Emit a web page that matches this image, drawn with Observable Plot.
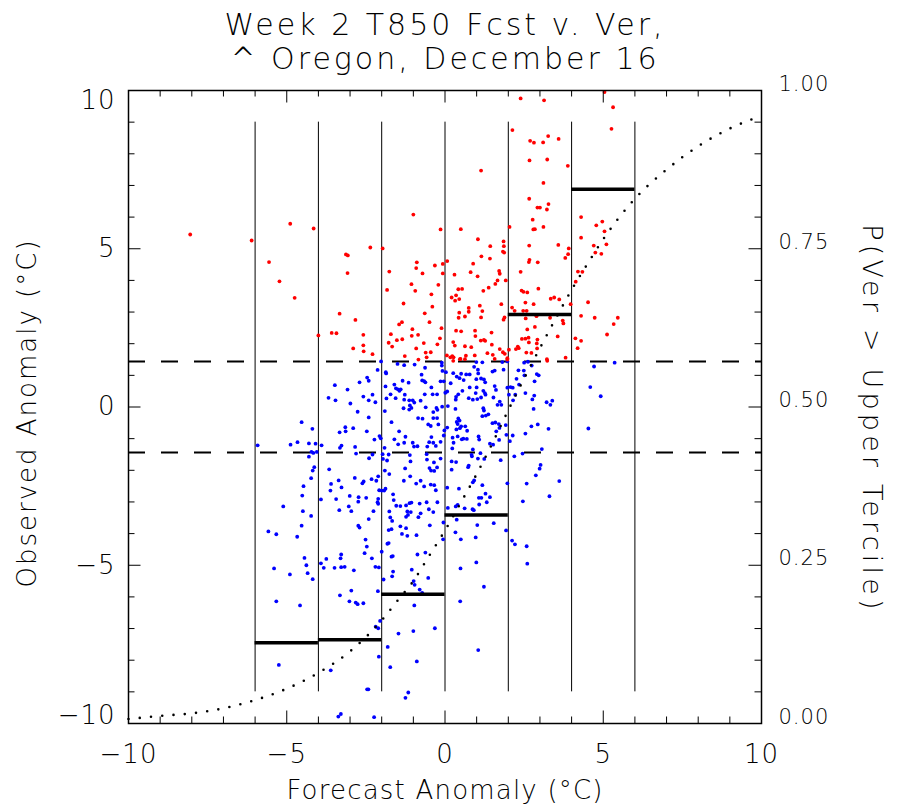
<!DOCTYPE html>
<html><head><meta charset="utf-8">
<script src="https://cdn.jsdelivr.net/npm/d3@7"></script>
<script src="https://cdn.jsdelivr.net/npm/@observablehq/plot@0.6"></script>
<style>
html,body{margin:0;padding:0;background:#fff;}
#chart svg{display:block;}
</style></head><body><div id="chart"></div>
<script>
// ---------- text ----------
const titleLines = ["Week 2 T850 Fcst v. Ver,", "^ Oregon, December 16"];
const xLabel = "Forecast Anomaly (°C)";
const yLabel = "Observed Anomaly (°C)";
const y2Label = "P(Ver > Upper Tercile)";

// ---------- ticks ----------
const xTicks = [-10, -5, 0, 5, 10];
const yTicks = [-10, -5, 0, 5, 10];
const probTicks = [0, 0.25, 0.5, 0.75, 1];
const probTickLabels = ["0.00", "0.25", "0.50", "0.75", "1.00"];

// ---------- bins / terciles ----------
const binEdges = [-6, -4, -2, 0, 2, 4, 6];
const binValues = [-7.45, -7.35, -5.92, -3.41, 2.92, 6.88];
const binLineExtent = [-9, 9];
const terciles = [-1.44, 1.44];

// ---------- probability curve (right axis) ----------
const curveFcst = [-10, -9, -8, -7, -6, -5, -4, -3, -2, -1.5, -1, -0.5, 0, 0.5, 1, 1.5, 2, 2.5, 3, 3.5, 4, 4.5, 5, 6, 7, 8, 9, 10];
const curveProb = [0.007, 0.012, 0.016, 0.024, 0.037, 0.055, 0.080, 0.114, 0.163, 0.194, 0.225, 0.265, 0.305, 0.349, 0.394, 0.443, 0.495, 0.545, 0.593, 0.640, 0.685, 0.726, 0.765, 0.829, 0.875, 0.912, 0.940, 0.960];

// ---------- scatter: observed above upper tercile (red) ----------
const warmPoints = [
[-8.05,5.45],[-6.11,5.26],[-4.89,5.79],[-4.15,5.64],[-5.56,4.58],[-5.23,3.97],[-4.75,3.45],[-2.36,5.04],[-1.97,5.01],
[-3.13,4.82],[-3.07,4.79],[-3.08,4.23],[-1.76,4.28],[-1.83,3.70],[-3.33,2.95],[-2.83,2.75],[-1.45,2.61],[-4.0,2.26],
[-3.58,2.34],[-3.43,2.33],[-2.58,2.28],[-1.71,2.30],[-1.52,2.11],[-1.78,2.03],[-1.67,1.91],[-2.90,1.85],[-2.58,1.95],
[-2.57,1.76],[-2.29,1.67],
[2.39,9.75],[3.13,9.69],[5.04,9.95],[5.31,9.47],[5.26,8.79],[2.13,8.75],[2.69,8.41],[2.81,8.35],[3.10,8.36],[3.26,8.56],
[3.59,8.47],[2.67,7.79],[3.23,7.82],[3.88,7.62],[1.14,7.47],[3.11,7.08],[2.66,6.58],[3.27,6.41],[2.92,6.30],[3.00,6.30],
[3.22,6.24],[-1.00,6.08],[2.77,5.92],[2.79,5.61],[2.84,5.62],[3.11,5.69],[-0.14,5.61],[0.50,5.62],[2.04,5.69],[4.30,6.00],
[4.97,5.86],[4.78,5.74],[5.04,5.55],[4.30,5.35],[4.70,5.10],[5.10,5.14],[4.75,4.88],[4.94,4.84],[1.04,5.30],[1.43,5.08],
[1.85,5.23],[1.86,5.08],[1.83,4.91],[1.87,4.88],[1.15,4.76],[1.42,4.69],[2.66,5.10],[3.58,5.12],[3.91,5.01],[3.89,4.83],
[3.80,4.71],[2.67,4.65],[2.65,4.58],[2.93,4.57],[2.39,4.27],[4.20,4.28],[4.34,4.27],[4.13,3.96],[0.89,4.53],[1.03,4.13],
[0.81,4.26],[1.71,4.30],[1.73,4.21],[1.66,4.00],[1.59,3.89],[1.92,4.00],[1.38,3.77],[1.21,3.67],[0.30,4.18],[0.07,4.61],
[-0.07,4.22],[-0.07,4.52],[-0.32,4.47],[-0.89,4.57],[-0.91,4.39],[-0.71,4.22],[-0.21,3.86],[-1.06,3.88],[-0.94,3.67],
[-0.43,3.56],[-1.31,3.27],[-0.40,3.17],[-0.64,2.96],[-0.49,2.68],[-1.36,2.68],[-1.03,2.46],[-0.85,2.28],[-1.05,2.25],
[-0.11,2.49],[-0.16,2.17],[-1.35,2.14],[-0.24,1.98],[-0.67,2.02],[-0.91,1.85],[-0.61,1.72],[-0.58,1.57],[-0.45,1.73],
[-1.27,1.61],[0.21,3.46],[0.32,3.36],[0.45,3.41],[0.35,3.53],[0.42,3.72],[0.54,3.73],[0.75,3.13],[0.75,3.01],[0.45,2.98],
[0.63,2.86],[0.43,2.82],[1.10,3.20],[1.18,3.03],[1.14,2.83],[1.78,3.25],[1.88,2.83],[1.85,2.76],[1.47,2.35],[0.35,2.41],
[0.51,2.39],[0.95,2.41],[0.96,2.24],[0.83,1.89],[1.13,2.10],[1.23,2.12],[1.27,2.09],[0.63,1.92],[0.31,1.94],[0.26,2.05],
[1.48,1.97],[1.34,1.70],[1.51,1.65],[1.57,1.52],[0.06,1.63],[0.23,1.61],[0.27,1.57],[0.47,1.51],[0.66,1.62],[0.63,1.51],
[0.94,1.63],[1.73,1.83],[1.83,1.73],[1.89,1.68],[1.97,1.54],[2.02,1.81],[2.42,3.68],[2.48,3.64],[2.60,3.62],[2.95,3.74],
[2.54,3.30],[2.80,3.25],[2.12,3.14],[2.20,3.04],[2.47,3.04],[2.58,3.04],[2.55,2.80],[2.89,2.87],[3.32,2.82],[2.84,2.53],
[2.60,2.45],[2.43,2.15],[2.54,2.16],[2.64,2.19],[2.65,2.04],[2.92,2.13],[2.90,2.01],[2.91,1.85],[2.24,1.83],[2.30,1.91],
[2.33,1.86],[2.57,1.72],[2.73,1.71],[3.22,1.51],[3.56,2.23],[3.72,2.73],[3.74,2.64],[3.34,3.42],[3.45,3.46],[3.61,3.40],
[3.97,3.25],[3.81,1.56],[4.12,2.17],[4.30,2.09],[4.19,1.86],[4.52,3.31],[4.30,2.88],[4.73,2.82],[5.46,2.82],[5.33,2.62],
[5.12,2.29],[0.17,1.57],[0.26,1.46],[0.49,1.52],[1.97,1.50],[3.23,1.46],[-0.84,1.50]
];

// ---------- scatter: other observations (blue) ----------
const otherPoints = [
[-2.02,1.44],[-1.50,1.36],[-1.29,1.32],[-0.96,1.34],[-0.63,1.24],[-2.13,1.17],[-1.87,1.10],[-1.86,1.06],[-2.46,0.93],
[-2.41,0.83],[-2.70,0.78],[-0.74,1.02],[-0.72,0.84],[-0.66,0.82],[-0.62,0.78],[-1.34,0.83],[-1.15,0.77],[-1.60,0.71],
[-1.55,0.59],[-1.49,0.56],[-1.40,0.56],[-1.44,0.51],[-1.88,0.65],[-3.48,0.69],[-3.08,0.55],[-3.68,0.29],[-3.46,0.21],
[-2.99,0.11],[-2.58,0.33],[-2.41,0.21],[-2.29,0.39],[-2.20,0.15],[-1.72,0.40],[-1.85,0.27],[-1.56,0.28],[-1.29,0.23],
[-1.13,0.21],[-1.27,0.39],[-1.02,0.21],[-0.64,0.40],[-0.39,0.40],[-0.25,0.40],[-0.77,0.20],[-1.11,0.05],[-1.06,-0.03],
[-1.13,-0.08],[-0.97,0.14],[-0.43,0.62],[-1.31,-0.04],[-0.61,-0.01],[-0.27,-0.03],[-0.37,-0.16],[-0.24,-0.09],[-1.90,-0.13],
[-2.76,-0.15],[-2.41,-0.33],[-0.85,-0.35],[-0.71,-0.37],[-0.37,-0.35],[-0.25,-0.35],[-1.69,-0.48],[-0.53,-0.55],[-0.45,-0.60],
[-0.21,-0.55],[-4.53,-0.48],[-4.19,-0.69],[-3.15,-0.64],[-2.90,-0.67],[-3.14,-0.77],[-3.33,-0.80],[-2.47,-0.77],[-1.45,-0.77],
[-2.07,-0.92],[-2.03,-0.99],[-2.23,-1.03],[-1.60,-1.02],[-1.25,-0.94],[-1.48,-1.18],[-1.29,-1.13],[-1.02,-1.13],[-0.50,-1.11],
[-0.37,-1.13],[-0.43,-0.95],[-0.29,-1.23],[-0.98,-1.25],[-0.87,-1.24],[-0.56,-1.25],[-1.91,-1.29],[-2.84,-1.26],[-3.27,-1.22],
[-3.32,-1.29],[-5.92,-1.21],[-4.88,-1.19],[-4.66,-1.11],[-4.30,-1.15],[-4.09,-1.16],[-3.90,-1.21],[-4.22,-1.42],[-4.16,-1.45],
[-4.30,-1.57],[-4.05,-1.42],[-2.81,-1.47],[-2.40,-1.62],[-2.29,-1.50],[-1.97,-1.49],[-1.78,-1.50],[-1.96,-1.64],[-1.83,-1.69],
[-1.11,-1.52],[-1.09,-1.72],[-1.26,-1.94],[-0.58,-1.49],[-0.57,-1.66],[-0.49,-1.93],[-0.44,-2.01],[-0.34,-2.02],[-0.25,-1.91],
[-0.35,-1.75],[-4.13,-1.90],[-4.18,-2.01],[-4.23,-2.25],[-3.66,-1.97],[-1.90,-2.01],[-1.76,-2.12],[-1.10,-2.19],[-1.30,-2.33],
[-0.77,-2.33],[-0.91,-2.42],[-0.66,-2.51],[-0.45,-2.45],[-0.34,-2.47],[-0.29,-2.63],[-2.85,-2.24],[-2.57,-2.35],[-2.61,-2.41],
[-2.32,-2.28],[-2.17,-2.33],[-2.11,-2.19],[-3.60,-2.43],[-3.36,-2.32],[-3.62,-2.64],[-3.27,-2.54],[-4.47,-2.50],[-4.51,-2.80],
[-3.92,-2.92],[-3.44,-2.91],[-3.01,-2.81],[-2.73,-2.85],[-2.74,-2.99],[-2.49,-2.87],[-2.08,-2.63],[-2.00,-2.64],[-1.92,-2.64],
[-1.88,-2.58],[-2.11,-2.90],[-2.13,-3.01],[-2.11,-3.06],[-1.64,-2.76],[-1.62,-2.94],[-1.54,-3.12],[-1.06,-3.02],[-1.12,-3.04],
[-1.23,-3.11],[-0.80,-3.05],[-0.58,-3.01],[-0.24,-3.01],[-5.11,-3.14],[-4.49,-3.29],[-4.23,-3.44],[-4.53,-3.75],[-3.34,-3.26],
[-3.04,-3.14],[-2.96,-3.29],[-2.26,-3.29],[-2.41,-3.54],[-1.76,-3.30],[-1.73,-3.49],[-1.67,-3.60],[-1.41,-3.13],[-1.23,-3.47],
[-1.17,-3.41],[-1.08,-3.32],[-1.19,-3.30],[-0.77,-3.36],[-0.84,-3.48],[-0.51,-3.23],[-0.37,-3.32],[-1.41,-3.77],[-1.23,-3.83],
[-0.48,-3.74],[-2.74,-3.75],[-2.70,-3.81],[-1.69,-3.86],[-1.78,-3.89],[-5.58,-3.93],[-5.33,-4.02],[-4.67,-4.10],[-1.36,-4.01],
[-1.19,-4.07],[-0.90,-4.05],[-2.51,-4.19],[-2.47,-4.41],[-2.54,-4.62],[-2.31,-4.78],[-1.78,-4.30],[-1.82,-4.32],[-2.00,-4.57],
[-1.69,-4.73],[-1.65,-4.71],[-0.87,-4.66],[-0.62,-4.60],[-4.44,-4.77],[-3.75,-4.80],[-3.30,-4.78],[-3.28,-4.66],
[-0.10,1.40],[-0.10,1.31],[-0.08,1.14],[0.03,1.10],[0.26,1.07],[0.37,0.96],[0.46,0.91],[0.59,0.85],[0.51,1.05],[0.67,1.03],
[0.78,1.03],[0.92,1.27],[0.99,1.42],[1.04,1.18],[1.18,1.41],[1.05,1.06],[0.99,0.88],[1.14,0.90],[1.23,0.87],[1.27,0.78],
[1.50,1.12],[1.57,1.15],[1.85,1.18],[1.81,1.42],[1.97,1.44],[2.32,1.16],[2.49,1.15],[2.62,1.43],[2.50,1.40],[2.74,1.31],
[2.51,1.00],[2.90,1.04],[2.96,1.00],[2.26,0.89],[2.34,0.71],[2.83,0.81],[5.36,1.40],[4.71,1.28],[4.59,0.63],[4.92,0.34],
[4.53,-0.68],[-0.14,0.81],[-0.04,0.81],[0.18,0.75],[0.07,0.49],[0.01,0.45],[0.35,0.32],[0.42,0.40],[0.34,0.23],[0.55,0.51],
[0.78,0.62],[1.00,0.62],[0.97,0.44],[0.75,0.28],[0.88,0.23],[1.02,0.25],[1.21,0.51],[1.26,0.44],[1.14,0.30],[1.28,0.39],
[1.57,0.66],[1.61,0.54],[1.53,0.30],[1.73,0.17],[1.66,0.07],[1.78,0.07],[1.97,0.61],[2.07,0.63],[2.14,0.61],[2.02,0.39],
[2.22,0.39],[2.15,0.21],[2.54,0.44],[2.82,0.36],[2.76,0.24],[3.21,0.15],[3.39,0.20],[3.33,0.07],[2.80,-0.06],[-0.09,0.01],
[0.09,0.03],[0.33,-0.06],[1.21,-0.04],[1.23,-0.11],[1.18,-0.29],[1.29,-0.27],[1.37,-0.23],[0.42,-0.36],[0.46,-0.43],
[0.37,-0.47],[0.40,-0.54],[0.07,-0.65],[0.36,-0.71],[0.51,-0.61],[0.64,-0.61],[0.47,-0.67],[0.70,-0.75],[1.59,-0.49],
[1.50,-0.51],[1.70,-0.54],[1.62,-0.77],[1.72,-0.66],[1.92,-0.57],[1.94,-0.88],[2.14,-0.90],[2.54,-0.84],[2.73,-0.61],
[2.93,-0.55],[3.27,-0.69],[-0.02,-0.74],[-0.04,-0.90],[-0.14,-1.10],[0.24,-0.97],[0.27,-1.13],[0.40,-0.93],[0.53,-1.02],
[0.58,-1.00],[0.69,-1.01],[1.06,-0.93],[1.08,-1.03],[1.42,-1.16],[1.52,-1.19],[1.71,-1.04],[2.05,-1.08],[3.06,-1.33],
[0.23,-1.31],[0.88,-1.34],[-0.14,-1.63],[0.84,-1.51],[0.85,-1.56],[1.04,-1.63],[1.12,-1.46],[1.24,-1.64],[0.21,-1.72],
[0.35,-1.74],[1.76,-1.68],[2.19,-1.56],[2.45,-1.47],[3.02,-1.83],[2.99,-1.95],[2.87,-2.16],[0.75,-1.85],[0.73,-1.90],
[0.21,-1.98],[3.61,-2.34],[0.92,-2.32],[0.88,-2.38],[0.07,-2.55],[0.44,-2.58],[1.18,-2.47],[1.97,-2.41],[2.58,-2.42],
[1.15,-2.87],[1.07,-2.87],[1.28,-2.74],[1.42,-2.85],[1.32,-3.01],[1.08,-3.08],[0.40,-3.09],[0.34,-3.14],[0.62,-3.20],
[0.87,-3.23],[0.91,-3.26],[0.09,-3.19],[2.46,-2.98],[3.30,-2.82],[1.54,-3.67],[1.02,-3.73],[-0.05,-3.65],[0.37,-3.56],
[1.93,-3.90],[0.33,-3.96],[-0.06,-4.18],[0.50,-4.18],[0.97,-4.12],[2.12,-4.22],[2.21,-4.34],[2.58,-4.40],
[-5.40,-5.10],[-4.90,-5.29],[-4.38,-5.00],[-4.34,-5.25],[-4.18,-5.44],[-5.33,-6.14],[-4.58,-6.27],[-3.92,-4.94],[-3.83,-5.08],
[-3.49,-5.08],[-3.28,-5.06],[-3.17,-5.05],[-2.88,-5.16],[-2.20,-5.05],[-2.09,-5.07],[-2.12,-5.82],[-2.96,-5.80],[-3.32,-5.95],
[-3.02,-6.14],[-2.82,-6.18],[-2.76,-6.23],[-2.58,-6.20],[-2.05,-6.76],[-2.19,-6.94],[-2.11,-6.99],[-2.09,-7.89],[-5.25,-8.15],
[-3.61,-8.32],[-2.46,-8.92],[-2.42,-8.92],[-3.29,-9.70],[-3.37,-9.78],[-2.24,-9.80],[-1.64,-5.20],[-1.67,-5.35],[-1.94,-5.45],
[-1.05,-5.14],[-0.53,-5.40],[-0.96,-5.62],[-0.99,-5.50],[-0.80,-5.77],[-0.72,-5.87],[-0.97,-6.27],[-1.47,-7.16],[-1.00,-7.08],
[-0.32,-6.99],[-1.81,-7.58],[-0.89,-8.04],[-1.73,-8.22],[-1.16,-9.02],[-1.25,-9.19],[0.49,-5.10],[0.99,-4.91],[1.23,-5.68],
[0.48,-6.14],[1.05,-7.68],[2.60,-4.95]
];

// ---------- derived tables ----------
const yMin = -10, yMax = 10;
const pToY = p => yMin + (yMax - yMin) * p;           // right axis (probability) -> left axis units
const curve = curveFcst.map((x, i) => ({x, p: curveProb[i]}));
const bins = binValues.map((v, i) => ({lo: binEdges[i], hi: binEdges[i + 1], v}));
const warm = warmPoints.map(([x, y]) => ({x, y}));
const other = otherPoints.map(([x, y]) => ({x, y}));
const fmt = d => (d < 0 ? "\u2212" + Math.abs(d) : String(d));

const unitsPerPx = (yMax - yMin) / 633;
const minorLen = 6.5 * unitsPerPx, majorLen = 12.5 * unitsPerPx;
const xAll = d3.range(-10, 11);
const xMinor = xAll.filter(d => d % 5 !== 0);
const pAll = d3.range(0, 21).map(i => i / 20);
const pMinor = pAll.filter(p => !probTicks.some(t => Math.abs(t - p) < 1e-9));

const FONT = "'DejaVu Sans', 'Liberation Sans', sans-serif";
const W = 300;

const chart = Plot.plot({
  width: 900, height: 810,
  marginLeft: 128, marginRight: 139, marginTop: 90, marginBottom: 87,
  style: {fontFamily: FONT, background: "#fff", color: "#000"},
  x: {domain: [-10, 10], axis: null},
  y: {domain: [yMin, yMax], axis: null},
  marks: [
    // bin separators
    Plot.ruleX(binEdges, {x: d => d, y1: binLineExtent[0], y2: binLineExtent[1], stroke: "#000", strokeWidth: 1}),
    // tercile lines
    Plot.ruleY(terciles, {y: d => d, stroke: "#000", strokeWidth: 2, strokeDasharray: "17,16"}),
    // scatter
    Plot.dot(other, {x: "x", y: "y", r: 1.9, fill: "#0000ff"}),
    Plot.dot(warm, {x: "x", y: "y", r: 1.9, fill: "#ff0000"}),
    // probability curve
    Plot.line(curve, {x: "x", y: d => pToY(d.p), stroke: "#000", strokeWidth: 2.6, strokeDasharray: "0,11.3", strokeLinecap: "round", curve: "monotone-x"}),
    // bin values
    Plot.ruleY(bins, {y: "v", x1: "lo", x2: "hi", stroke: "#000", strokeWidth: 3.5}),
    Plot.frame({stroke: "#000", strokeWidth: 1.5}),
    // ticks bottom/top
    Plot.ruleX(xMinor, {x: d => d, y1: yMin, y2: yMin + minorLen, stroke: "#000", strokeWidth: 1}),
    Plot.ruleX(xTicks, {x: d => d, y1: yMin, y2: yMin + majorLen, stroke: "#000", strokeWidth: 1}),
    Plot.ruleX(xMinor, {x: d => d, y1: yMax, y2: yMax - minorLen, stroke: "#000", strokeWidth: 1}),
    Plot.ruleX(xTicks, {x: d => d, y1: yMax, y2: yMax - majorLen, stroke: "#000", strokeWidth: 1}),
    // ticks left
    Plot.ruleY(xMinor, {y: d => d, x1: -10, x2: -10 + minorLen, stroke: "#000", strokeWidth: 1}),
    Plot.ruleY(yTicks, {y: d => d, x1: -10, x2: -10 + majorLen, stroke: "#000", strokeWidth: 1}),
    // ticks right (probability)
    Plot.ruleY(pMinor, {y: p => pToY(p), x1: 10, x2: 10 - minorLen, stroke: "#000", strokeWidth: 1}),
    Plot.ruleY(probTicks, {y: p => pToY(p), x1: 10, x2: 10 - majorLen, stroke: "#000", strokeWidth: 1}),
    // x tick labels
    Plot.text(xTicks, {x: d => d, text: fmt, frameAnchor: "bottom", lineAnchor: "top", dy: 21, fontSize: 26, fontWeight: W}),
    // y tick labels
    Plot.text(yTicks.filter(d => d === yMax), {y: d => d, text: fmt, frameAnchor: "left", textAnchor: "end", lineAnchor: "top", dx: -13, fontSize: 26, fontWeight: W}),
    Plot.text(yTicks.filter(d => d === yMin), {y: d => d, text: fmt, frameAnchor: "left", textAnchor: "end", lineAnchor: "bottom", dx: -13, fontSize: 26, fontWeight: W}),
    Plot.text(yTicks.filter(d => d > yMin && d < yMax), {y: d => d, text: fmt, frameAnchor: "left", textAnchor: "end", lineAnchor: "middle", dx: -13, fontSize: 26, fontWeight: W}),
    // right tick labels
    Plot.text(probTicks, {y: p => pToY(p), text: (p, i) => probTickLabels[i], frameAnchor: "right", textAnchor: "start", lineAnchor: "bottom", dx: 17, fontSize: 21, fontWeight: W}),
    // axis titles
    Plot.text([xLabel], {text: d => d, frameAnchor: "bottom", lineAnchor: "bottom", dy: 75, fontSize: 26, fontWeight: W}),
    Plot.text([yLabel], {text: d => d, frameAnchor: "left", textAnchor: "middle", rotate: -90, lineAnchor: "middle", dx: -101, dy: 6, fontSize: 26, fontWeight: W}),
    Plot.text([y2Label], {text: d => d, frameAnchor: "right", textAnchor: "middle", rotate: 90, lineAnchor: "middle", dx: 110, dy: 12, fontSize: 27, fontWeight: W}),
    // title
    Plot.text([titleLines[0]], {text: d => d, frameAnchor: "top", lineAnchor: "bottom", dy: -56, fontSize: 30, fontWeight: W}),
    Plot.text([titleLines[1]], {text: d => d, frameAnchor: "top", lineAnchor: "bottom", dy: -22, fontSize: 30, fontWeight: W})
  ]
});

// letter spacing tweaks (styling only)
d3.select(chart).selectAll("text").each(function () {
  const t = this.textContent;
  if (titleLines.includes(t)) this.style.letterSpacing = "3px";
  else if (t === xLabel) this.style.letterSpacing = "1.2px";
  else if (t === yLabel) this.style.letterSpacing = "2px";
  else if (t === y2Label) this.style.letterSpacing = "4.2px";
  else this.style.letterSpacing = "1px";
});

document.getElementById("chart").appendChild(chart);
</script>
</body></html>
